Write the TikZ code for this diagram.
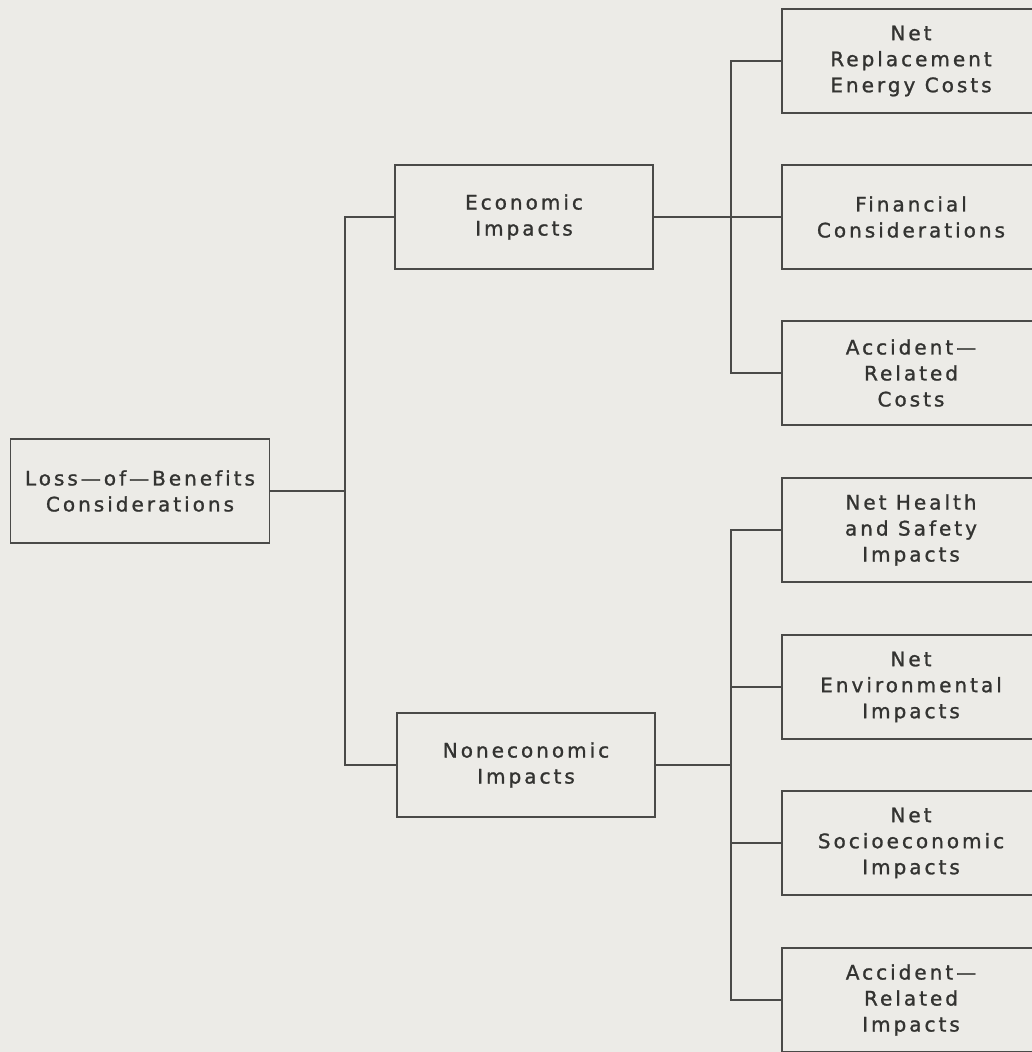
\documentclass[tikz,border=0pt]{standalone}
\usepackage{fontspec}
\setmainfont{DejaVu Sans}[LetterSpace=15,FakeBold=1.2,Ligatures=NoCommon]
\begin{document}
\begin{tikzpicture}[x=1pt,y=-1pt,
  box/.style={draw=linecol,line width=1.1pt,minimum width=258pt,minimum height=104pt,
    inner sep=0pt,align=center,text=txtcol,font=\fontsize{20}{26}\selectfont},
  wire/.style={draw=linecol,line width=1.1pt}]
\definecolor{paper}{HTML}{ECEBE7}
\definecolor{linecol}{HTML}{4A4A48}
\definecolor{txtcol}{HTML}{333331}
\fill[paper] (0,0) rectangle (1032,1052);
\useasboundingbox (0,0) rectangle (1032,1052);
\clip (0,0) rectangle (1032,1052);

% root and second level
\node[box,minimum width=259pt] (root) at (140,491) {Loss—of—Benefits\\Considerations};
\node[box] (econ) at (524,217) {Economic\\Impacts};
\node[box] (nonecon) at (526,765) {Noneconomic\\Impacts};

% third level (boxes run past the right edge)
\node[box] (c1) at (911,61) {Net\\Replacement\\Energy Costs};
\node[box] (c2) at (911,217) {Financial\\Considerations};
\node[box] (c3) at (911,373) {Accident—\\Related\\Costs};
\node[box] (d1) at (911,530) {Net Health\\and Safety\\Impacts};
\node[box] (d2) at (911,687) {Net\\Environmental\\Impacts};
\node[box] (d3) at (911,843) {Net\\Socioeconomic\\Impacts};
\node[box] (d4) at (911,1000) {Accident—\\Related\\Impacts};

% bus coordinates
\coordinate (b0) at (345,491);
\coordinate (b1) at (731,217);
\coordinate (b2) at (731,765);

% connectors
\draw[wire] (root.east) -- (b0);
\draw[wire] (econ.west) -| (b0) |- (nonecon.west);
\draw[wire] (econ.east) -- (c2.west);
\draw[wire] (c1.west) -| (b1) |- (c3.west);
\draw[wire] (nonecon.east) -- (b2);
\draw[wire] (d1.west) -| (b2) |- (d4.west);
\draw[wire] (d2.west) -- (d2.west -| b2);
\draw[wire] (d3.west) -- (d3.west -| b2);
\end{tikzpicture}
\end{document}
